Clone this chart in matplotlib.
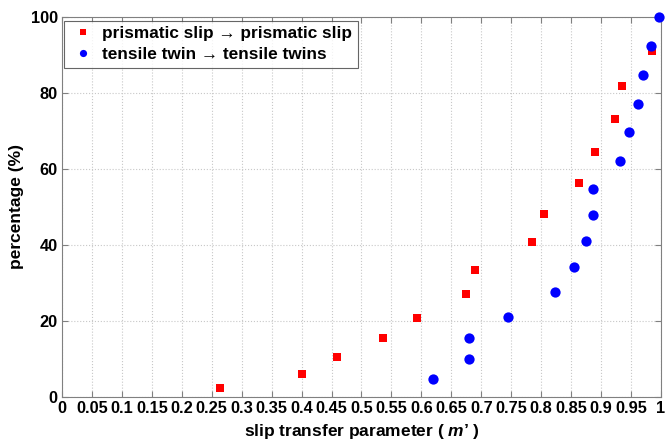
import numpy as np
import matplotlib
matplotlib.use("Agg")
import matplotlib.pyplot as plt

# --- data ---
prism_x = [0.264, 0.400, 0.459, 0.536, 0.592, 0.674, 0.689, 0.785, 0.804,
           0.863, 0.890, 0.923, 0.935, 0.985]
prism_y = [2.4, 6.1, 10.4, 15.4, 20.8, 27.1, 33.5, 40.9, 48.2,
           56.2, 64.5, 73.2, 81.7, 91.0]

twin_x = [0.620, 0.679, 0.680, 0.744, 0.823, 0.854, 0.874, 0.886, 0.887,
          0.932, 0.947, 0.962, 0.970, 0.983, 0.996]
twin_y = [4.8, 10.1, 15.4, 21.1, 27.6, 34.2, 41.1, 47.9, 54.8,
          62.2, 69.6, 77.0, 84.6, 92.4, 100.0]

xticks = [0, 0.05, 0.1, 0.15, 0.2, 0.25, 0.3, 0.35, 0.4, 0.45, 0.5,
          0.55, 0.6, 0.65, 0.7, 0.75, 0.8, 0.85, 0.9, 0.95, 1]
xtick_labels = ["0", "0.05", "0.1", "0.15", "0.2", "0.25", "0.3", "0.35",
                "0.4", "0.45", "0.5", "0.55", "0.6", "0.65", "0.7", "0.75",
                "0.8", "0.85", "0.9", "0.95", "1"]
yticks = [0, 20, 40, 60, 80, 100]

plt.rcParams['font.family'] = ['Liberation Sans', 'DejaVu Sans']
plt.rcParams['font.weight'] = 'bold'
plt.rcParams['mathtext.fontset'] = 'custom'
plt.rcParams['mathtext.it'] = 'Liberation Sans:italic:bold'
plt.rcParams['mathtext.rm'] = 'Liberation Sans:bold'

fig = plt.figure(figsize=(6.69, 4.45), dpi=100)
ax = fig.add_axes([0.0927, 0.108, 0.8953, 0.854])

ax.plot(prism_x, prism_y, 's', color='#ff0000', markersize=5.8,
        markeredgewidth=0, label='prismatic slip \u2192 prismatic slip',
        clip_on=False, zorder=3)
ax.plot(twin_x, twin_y, 'o', color='#0000ff', markersize=7.4,
        markeredgewidth=0, label='tensile twin \u2192 tensile twins',
        clip_on=False, zorder=3)

ax.set_xlim(0, 1)
ax.set_ylim(0, 100)
ax.set_xticks(xticks)
ax.set_xticklabels(xtick_labels)
ax.set_yticks(yticks)
ax.tick_params(direction='in', top=True, right=True, labelsize=11.8,
               length=4, width=0.8, color='#808080', pad=3)
for lab in ax.get_xticklabels() + ax.get_yticklabels():
    lab.set_fontweight('bold')
for s in ax.spines.values():
    s.set_color('#808080')
    s.set_linewidth(0.8)

ax.grid(True, linestyle=':', color='#c8c8c8', linewidth=0.8)
ax.set_axisbelow(True)

ax.set_xlabel("slip transfer parameter ( $m\u2019$ )", fontsize=12.5,
              fontweight='bold', labelpad=4)
ax.set_ylabel("percentage (%)", fontsize=12.5, fontweight='bold', labelpad=5)

leg = ax.legend(loc='upper left', bbox_to_anchor=(0.004, 0.99),
                borderaxespad=0, fontsize=12.4, frameon=True, fancybox=False,
                edgecolor='#404040', borderpad=0.32, handletextpad=0.32,
                labelspacing=0.35, handlelength=1.57, markerscale=0.7,
                numpoints=1)
leg.get_frame().set_linewidth(0.8)
for t in leg.get_texts():
    t.set_fontweight('bold')

fig.savefig('out.png', dpi=100)
